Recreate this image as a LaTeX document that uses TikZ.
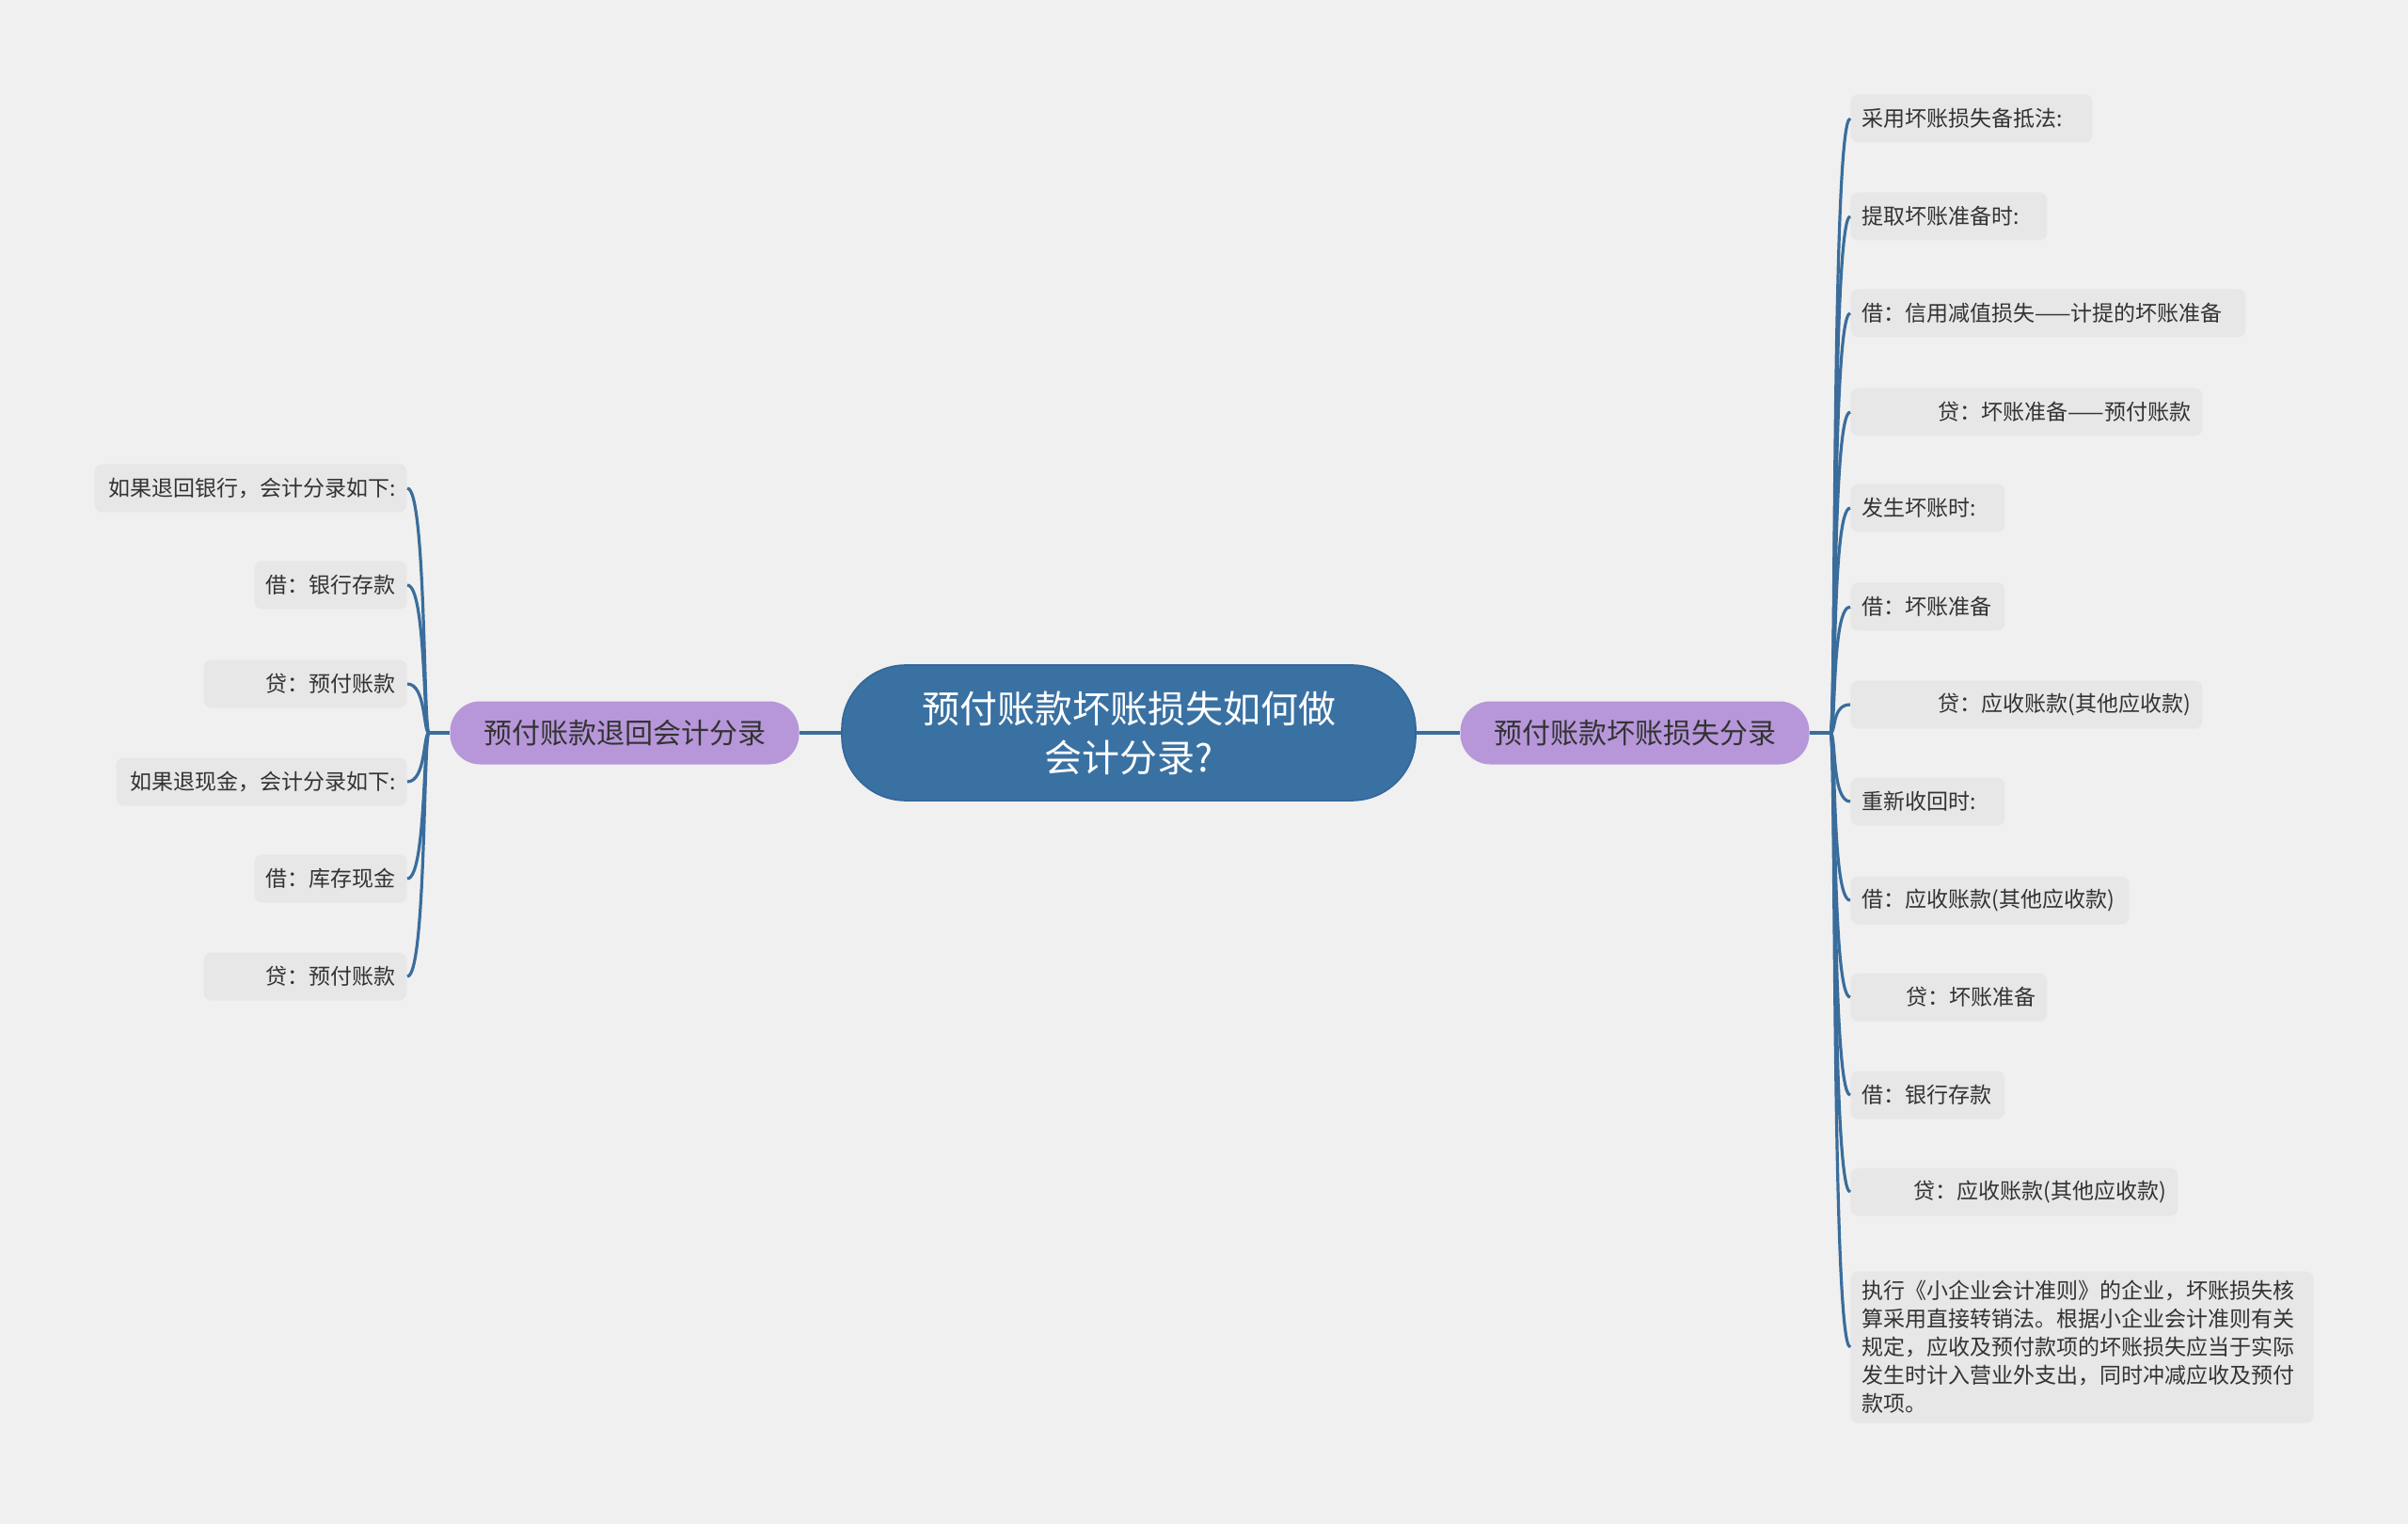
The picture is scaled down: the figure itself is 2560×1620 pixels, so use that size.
\documentclass[tikz,border=0pt]{standalone}
\usepackage{fontspec}
\setmainfont{Noto Sans CJK SC}
\usepackage{tikz}
\usetikzlibrary{positioning}
\definecolor{cBg}{HTML}{F0F0F0}
\definecolor{cRoot}{HTML}{3A71A3}
\definecolor{cRootD}{HTML}{33679A}
\definecolor{cBranch}{HTML}{B797DA}
\definecolor{cLeafF}{HTML}{E7E7E7}
\definecolor{cLink}{HTML}{3A6D9C}
\definecolor{cText}{HTML}{333333}
\tikzset{
  root/.style   ={rounded corners=34pt, draw=cRootD, line width=0.8pt, fill=cRoot,
                  minimum width=305pt, minimum height=72pt, align=center,
                  font=\fontsize{20pt}{26pt}\selectfont, text=white},
  branch/.style ={rounded corners=16pt, fill=cBranch,
                  minimum width=185.5pt, minimum height=33.5pt, align=center,
                  font=\fontsize{15pt}{18pt}\selectfont, text=cText},
  leaf/.style   ={rounded corners=4pt, fill=cLeafF, inner xsep=6pt, inner ysep=3pt,
                  minimum height=25.5pt, text width=#1,
                  font=\fontsize{11.5pt}{15pt}\selectfont, text=cText},
  leafl/.style  ={leaf=#1, align=left},
  leafr/.style  ={leaf=#1, align=right},
  trunk/.style  ={draw=cLink, line width=2pt},
  link/.style   ={draw=cLink, line width=1.6pt},
}

\begin{document}
\begin{tikzpicture}[x=0.5pt, y=-0.5pt]

  % ---- canvas ----
  \fill[cBg] (0,0) rectangle (2560,1620);

  % ---- root + branches ----
  \node[root] (root) at (1200,779) {预付账款坏账损失如何做\\会计分录?};
  \node[branch] (lbr) at (664,779) {预付账款退回会计分录};
  \node[branch] (rbr) at (1738,779) {预付账款坏账损失分录};

  \coordinate (ljoin) at (456,779);
  \coordinate (rjoin) at (1946,779);

  % ---- left leaves ----
  \node[leafr=154pt,  anchor=east] (l1) at (433,519)  {如果退回银行，会计分录如下:};
  \node[leafr=69pt,   anchor=east] (l2) at (433,622)  {借：银行存款};
  \node[leafr=96pt,   anchor=east] (l3) at (433,727)  {贷：预付账款};
  \node[leafr=142.5pt,anchor=east] (l4) at (433,831)  {如果退现金，会计分录如下:};
  \node[leafr=69pt,   anchor=east] (l5) at (433,934)  {借：库存现金};
  \node[leafr=96pt,   anchor=east] (l6) at (433,1038) {贷：预付账款};

  % ---- right leaves ----
  \node[leafl=116.5pt,anchor=west] (r1)  at (1967,126)  {采用坏账损失备抵法:};
  \node[leafl=92.5pt, anchor=west] (r2)  at (1967,230)  {提取坏账准备时:};
  \node[leafl=198pt,  anchor=west] (r3)  at (1967,333)  {借：信用减值损失——计提的坏账准备};
  \node[leafr=175pt,  anchor=west] (r4)  at (1967,438)  {贷：坏账准备——预付账款};
  \node[leafl=70pt,   anchor=west] (r5)  at (1967,540)  {发生坏账时:};
  \node[leafl=70pt,   anchor=west] (r6)  at (1967,645)  {借：坏账准备};
  \node[leafr=175pt,  anchor=west] (r7)  at (1967,749)  {贷：应收账款(其他应收款)};
  \node[leafl=70pt,   anchor=west] (r8)  at (1967,852)  {重新收回时:};
  \node[leafl=136pt,  anchor=west] (r9)  at (1967,957)  {借：应收账款(其他应收款)};
  \node[leafr=92.5pt, anchor=west] (r10) at (1967,1060) {贷：坏账准备};
  \node[leafl=70pt,   anchor=west] (r11) at (1967,1164) {借：银行存款};
  \node[leafr=162pt,  anchor=west] (r12) at (1967,1267) {贷：应收账款(其他应收款)};
  \node[leafl=234pt,  anchor=west, inner ysep=5pt] (r13) at (1967,1432)
    {执行《小企业会计准则》的企业，坏账损失核\\算采用直接转销法。根据小企业会计准则有关\\规定，应收及预付款项的坏账损失应当于实际\\发生时计入营业外支出，同时冲减应收及预付\\款项。};

  % ---- trunk edges ----
  \draw[trunk] (root.west) -- (lbr.east);
  \draw[trunk] (root.east) -- (rbr.west);
  \draw[link] (lbr.west) -- (ljoin);
  \draw[link] (rbr.east) -- (rjoin);

  % ---- left links ----
  \draw[link] (ljoin) .. controls +(-3pt,0) and +(10pt,0) .. (l1.east);
  \draw[link] (ljoin) .. controls +(-3pt,0) and +(10pt,0) .. (l2.east);
  \draw[link] (ljoin) .. controls +(-3pt,0) and +(10pt,0) .. (l3.east);
  \draw[link] (ljoin) .. controls +(-3pt,0) and +(10pt,0) .. (l4.east);
  \draw[link] (ljoin) .. controls +(-3pt,0) and +(10pt,0) .. (l5.east);
  \draw[link] (ljoin) .. controls +(-3pt,0) and +(10pt,0) .. (l6.east);

  % ---- right links ----
  \draw[link] (rjoin) .. controls +(3pt,0) and +(-10pt,0) .. (r1.west);
  \draw[link] (rjoin) .. controls +(3pt,0) and +(-10pt,0) .. (r2.west);
  \draw[link] (rjoin) .. controls +(3pt,0) and +(-10pt,0) .. (r3.west);
  \draw[link] (rjoin) .. controls +(3pt,0) and +(-10pt,0) .. (r4.west);
  \draw[link] (rjoin) .. controls +(3pt,0) and +(-10pt,0) .. (r5.west);
  \draw[link] (rjoin) .. controls +(3pt,0) and +(-10pt,0) .. (r6.west);
  \draw[link] (rjoin) .. controls +(3pt,0) and +(-10pt,0) .. (r7.west);
  \draw[link] (rjoin) .. controls +(3pt,0) and +(-10pt,0) .. (r8.west);
  \draw[link] (rjoin) .. controls +(3pt,0) and +(-10pt,0) .. (r9.west);
  \draw[link] (rjoin) .. controls +(3pt,0) and +(-10pt,0) .. (r10.west);
  \draw[link] (rjoin) .. controls +(3pt,0) and +(-10pt,0) .. (r11.west);
  \draw[link] (rjoin) .. controls +(3pt,0) and +(-10pt,0) .. (r12.west);
  \draw[link] (rjoin) .. controls +(3pt,0) and +(-10pt,0) .. (r13.west);

\end{tikzpicture}
\end{document}
